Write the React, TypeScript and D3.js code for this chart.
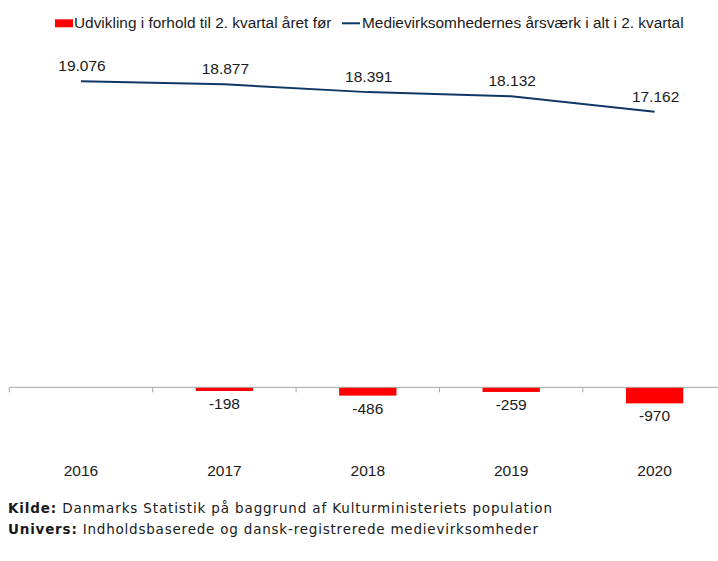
import React, { useEffect, useRef } from 'react';
import * as d3 from 'd3';

const years = ['2016', '2017', '2018', '2019', '2020'];
const employment = [19076, 18877, 18391, 18132, 17162];
const change = [0, -198, -486, -259, -970];
const legendLabels = [
  'Udvikling i forhold til 2. kvartal året før',
  'Medievirksomhedernes årsværk i alt i 2. kvartal',
];

const fmt = (v: number) => d3.format(',')(v).replace(/,/g, '.').replace('\u2212', '-');

const App = () => {
  const ref = useRef<SVGSVGElement | null>(null);

  useEffect(() => {
    const width = 718;
    const height = 561;
    const svg = d3.select(ref.current).attr('width', width).attr('height', height);
    svg.selectAll('*').remove();

    const font = "'Liberation Sans', Arial, sans-serif";

    const x = d3.scaleBand().domain(years).range([9.3, 726.3]).padding(0);
    const y = d3.scaleLinear().domain([0, 20000]).range([387.3, 66.3]);
    const barW = x.step() * 0.4;
    const cx = (d: string) => (x(d) as number) + x.bandwidth() / 2;

    // axis line + ticks at category boundaries
    svg.append('line')
      .attr('x1', 9.3).attr('x2', width)
      .attr('y1', y(0)).attr('y2', y(0))
      .attr('stroke', '#a6a6a6').attr('stroke-width', 1);
    svg.selectAll('.tick')
      .data(years)
      .enter().append('line')
      .attr('x1', d => x(d) as number).attr('x2', d => x(d) as number)
      .attr('y1', y(0)).attr('y2', y(0) + 5)
      .attr('stroke', '#a6a6a6');

    // bars
    const bars = years.map((d, i) => ({ year: d, v: change[i] })).filter(d => d.v !== 0);
    svg.selectAll('.bar')
      .data(bars)
      .enter().append('rect')
      .attr('x', d => cx(d.year) - barW / 2)
      .attr('width', barW)
      .attr('y', y(0) + 0.5)
      .attr('height', d => y(d.v) - y(0))
      .attr('fill', '#ff0000');

    svg.selectAll('.barlabel')
      .data(bars)
      .enter().append('text')
      .attr('x', d => cx(d.year))
      .attr('y', d => y(d.v) + 18.5)
      .attr('text-anchor', 'middle')
      .attr('font-family', font)
      .attr('font-size', 15.5)
      .attr('fill', '#1a1a1a')
      .text(d => fmt(d.v));

    // line
    const line = d3.line<number>()
      .x((_, i) => cx(years[i]))
      .y(d => y(d));
    svg.append('path')
      .datum(employment)
      .attr('d', line)
      .attr('fill', 'none')
      .attr('stroke', '#0e3766')
      .attr('stroke-width', 2);

    svg.selectAll('.linelabel')
      .data(employment)
      .enter().append('text')
      .attr('x', (_, i) => cx(years[i]) + 1)
      .attr('y', d => y(d) - 10)
      .attr('text-anchor', 'middle')
      .attr('font-family', font)
      .attr('font-size', 15.5)
      .attr('fill', '#1a1a1a')
      .text(d => fmt(d));

    // category labels
    svg.selectAll('.year')
      .data(years)
      .enter().append('text')
      .attr('x', d => cx(d))
      .attr('y', 476)
      .attr('text-anchor', 'middle')
      .attr('font-family', font)
      .attr('font-size', 15.5)
      .attr('fill', '#1a1a1a')
      .text(d => d);

    // legend
    const lg = svg.append('g');
    lg.append('rect').attr('x', 55).attr('y', 19.3).attr('width', 18).attr('height', 8).attr('fill', '#ff0000');
    lg.append('text').attr('x', 74).attr('y', 28.3)
      .attr('font-family', font).attr('font-size', 15.4).attr('fill', '#1a1a1a')
      .text(legendLabels[0]);
    lg.append('line').attr('x1', 342).attr('x2', 360).attr('y1', 23.3).attr('y2', 23.3)
      .attr('stroke', '#0e3766').attr('stroke-width', 2);
    lg.append('text').attr('x', 362).attr('y', 28.3)
      .attr('font-family', font).attr('font-size', 15.4).attr('fill', '#1a1a1a')
      .text(legendLabels[1]);

    // footnote
    const notes = [
      ['Kilde:', ' Danmarks Statistik på baggrund af Kulturministeriets population', 544],
      ['Univers:', ' Indholdsbaserede og dansk-registrerede medievirksomheder', 530],
    ];
    notes.forEach((n, i) => {
      const t = svg.append('text')
        .attr('x', 8).attr('y', 513.3 + i * 21)
        .attr('font-family', "'DejaVu Sans', sans-serif").attr('font-size', 13.5).attr('fill', '#1a1a1a');
      t.append('tspan').attr('font-weight', 'bold').text(n[0] as string);
      t.append('tspan').text(n[1] as string);
      const w = (t.node() as SVGTextElement).getComputedTextLength();
      const target = n[2] as number;
      if (Math.abs(w - target) > 2) {
        t.attr('textLength', target).attr('lengthAdjust', 'spacing');
      }
    });
  }, []);

  return (
    <div style={{ position: 'absolute', left: 0, top: 0, background: '#fff' }}>
      <svg ref={ref} style={{ display: 'block' }}></svg>
    </div>
  );
};

export default App;
